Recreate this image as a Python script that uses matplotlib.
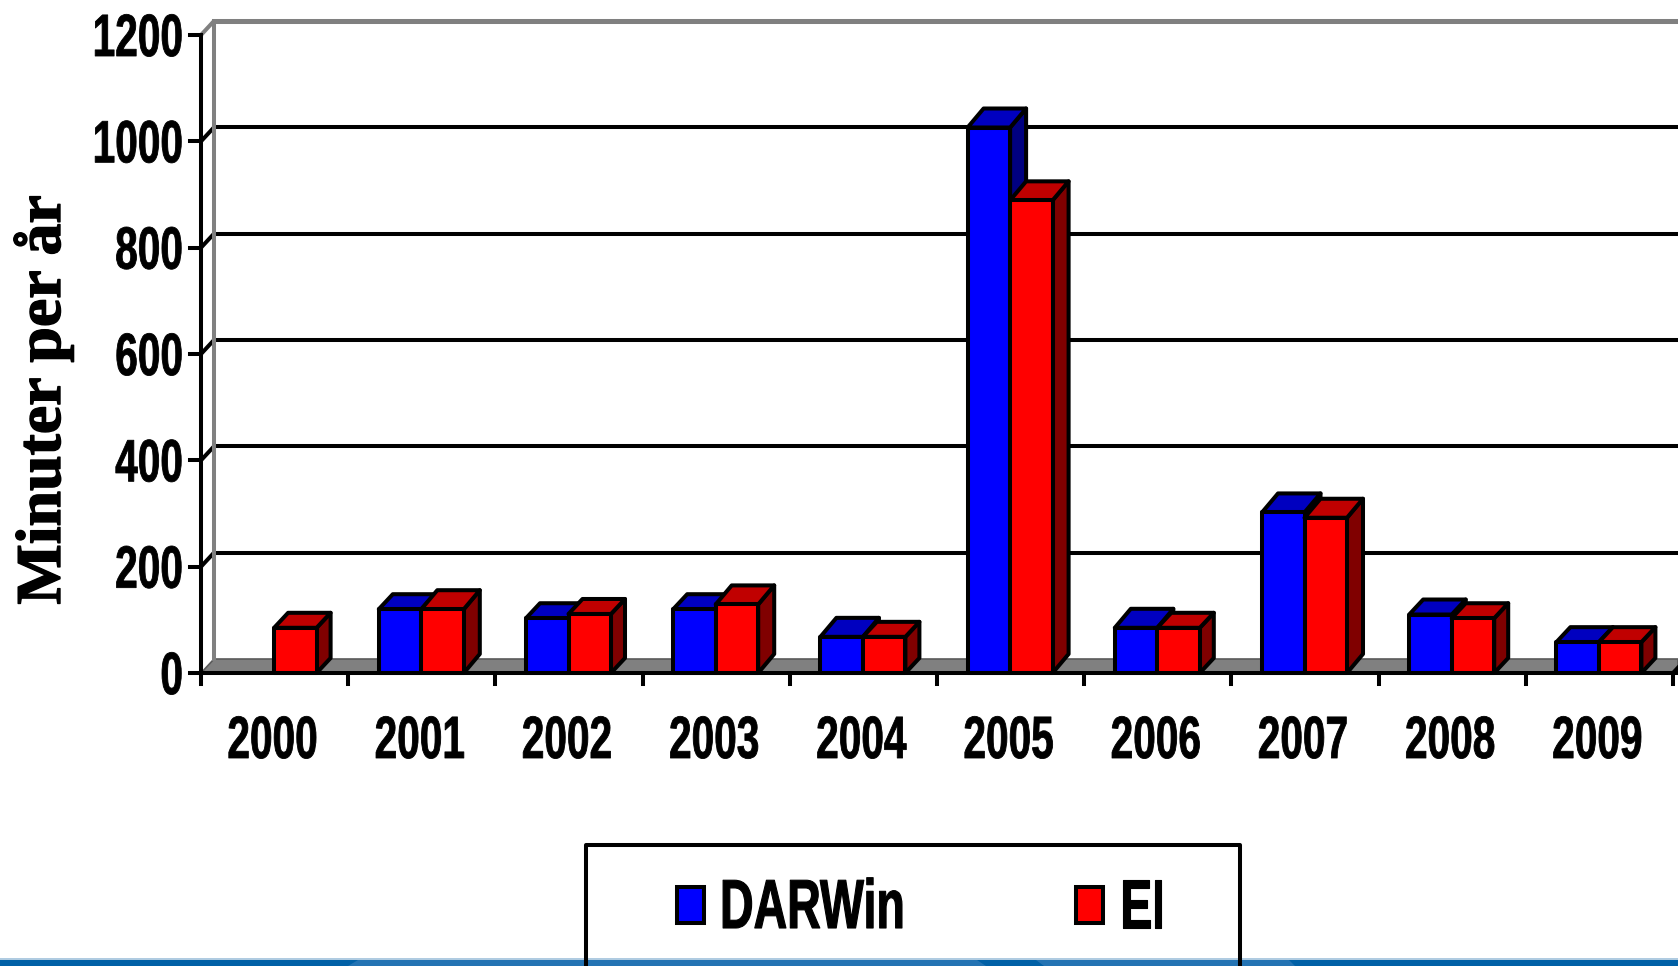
import matplotlib
matplotlib.use("Agg")
import matplotlib.pyplot as plt
from matplotlib.patches import Polygon, Rectangle
from matplotlib.patheffects import AbstractPathEffect, withStroke
from matplotlib.text import Text
from matplotlib.transforms import Affine2D, Bbox

years = ['2000', '2001', '2002', '2003', '2004', '2005', '2006', '2007', '2008', '2009']
darwin = [0, 120, 103, 120, 68, 1026, 85, 302, 110, 58]
ei = [85, 120, 111, 129, 68, 889, 85, 292, 103, 58]
y_ticks = [0, 200, 400, 600, 800, 1000, 1200]
deep_darwin = ['2004', '2005', '2006', '2007']
deep_ei = ['2001', '2003', '2005', '2007']

W, H = 1678, 966
SANS = 'Liberation Sans'
BASE = 0.68


class Condense(AbstractPathEffect):
    """Squeeze a text horizontally and thicken it a little, as the original lettering is."""

    def __init__(self, sx, cx, stroke):
        super().__init__()
        self.sx, self.cx, self.stroke = sx, cx, stroke

    def draw_path(self, renderer, gc, tpath, affine, rgbFace=None):
        a = affine + Affine2D().translate(-self.cx, 0).scale(self.sx, 1).translate(self.cx, 0)
        g = renderer.new_gc()
        g.copy_properties(gc)
        g.set_linewidth(self.stroke)
        g.set_foreground('black')
        renderer.draw_path(g, tpath, a, rgbFace)
        g.restore()


class NarrowText(Text):
    """Real text whose reported extent is the squeezed one that is actually drawn."""

    def __init__(self, xpx, ypx, s, sx, stroke, **kw):
        super().__init__(xpx / W, 1 - ypx / H, s, **kw)
        self.cx, self.sx = xpx, sx
        self.set_path_effects([Condense(sx, xpx, stroke)])

    def get_window_extent(self, renderer=None, dpi=None):
        bb = super().get_window_extent(renderer, dpi)
        return Bbox([[self.cx + (bb.x0 - self.cx) * self.sx, bb.y0],
                     [self.cx + (bb.x1 - self.cx) * self.sx, bb.y1]])


fig = plt.figure(figsize=(W / 100, H / 100), dpi=100, facecolor='white')
L, R, T, B = 201, 1673, 35, 673
ax = fig.add_axes([L / W, 1 - B / H, (R - L) / W, (B - T) / H])
ax.set_xlim(0, 10)
ax.set_ylim(0, 1200)
ax.axis('off')

px = 10 / (R - L)
py = 1200 / (B - T)
LW = 2.9
wall_dx, wall_dy = 13 * px, 14 * py
bw = 42.5 * px
right = (W - L) * px
shift = -0.5 * px

# floor and walls
ax.add_patch(Polygon([(0, 0), (wall_dx, wall_dy), (right, wall_dy), (right, 0)], closed=True,
                     fc='#808080', ec='#5a5a5a', lw=1.2, clip_on=False, zorder=1))
for yt in y_ticks[1:-1]:
    ax.plot([0, wall_dx], [yt, yt + wall_dy], color='black', lw=LW, clip_on=False, zorder=2)
    ax.plot([wall_dx, right], [yt + wall_dy] * 2, color='black', lw=LW, clip_on=False, zorder=2)
ax.plot([0, wall_dx, wall_dx], [1200, 1200 + wall_dy, wall_dy], color='#808080', lw=LW, clip_on=False, zorder=2)
ax.plot([wall_dx, right], [1200 + wall_dy] * 2, color='#808080', lw=LW * 1.25, clip_on=False, zorder=2)
ax.plot([10, 10 + wall_dx], [0, wall_dy], color='black', lw=LW, clip_on=False, zorder=2)

# axes
ax.plot([0, 0], [0, 1200], color='black', lw=LW, clip_on=False, zorder=6)
ax.plot([0, right], [0, 0], color='black', lw=LW, clip_on=False, zorder=6)
for yt in y_ticks:
    ax.plot([-11 * px, 0], [yt, yt], color='black', lw=LW, clip_on=False, zorder=6)
for i in range(len(years) + 1):
    ax.plot([i, i], [0, -11 * py], color='black', lw=LW, clip_on=False, zorder=6)


def bar3d(x0, v, front, top, side, z, deep):
    dx = (16 if deep else 14) * px
    dy = (19 if deep else 15) * py
    x1 = x0 + bw
    kw = dict(closed=True, ec='black', lw=LW, joinstyle='round', clip_on=False, zorder=z)
    ax.add_patch(Polygon([(x1, 0), (x1 + dx, dy), (x1 + dx, v + dy), (x1, v)], fc=side, **kw))
    ax.add_patch(Polygon([(x0, v), (x0 + dx, v + dy), (x1 + dx, v + dy), (x1, v)], fc=top, **kw))
    ax.add_patch(Rectangle((x0, 0), bw, v, fc=front, ec='black', lw=LW, joinstyle='round', clip_on=False, zorder=z))


for i, (a, b) in enumerate(zip(darwin, ei)):
    c = i + 0.5 + shift
    if a:
        bar3d(c - bw, a, '#0000FF', '#0000C0', '#000080', 4, years[i] in deep_darwin)
    if b:
        bar3d(c, b, '#FF0000', '#C00000', '#800000', 5, years[i] in deep_ei)


def label(xpx, ypx, s, size, ha='center', sx=BASE, stroke=0.6):
    t = NarrowText(xpx, ypx, s, sx, stroke, fontsize=size, family=SANS, weight='bold',
                   ha=ha, va='baseline', color='black', zorder=10, transform=fig.transFigure)
    fig.add_artist(t)
    return t


for yt in y_ticks:
    label(183, B - yt / py + 21, str(yt), 43, ha='right')
for i, y in enumerate(years):
    label(L + (i + 0.5) / px - 2, 758, y, 43)

fig.text(60 / W, 1 - 400 / H, 'Minuter per år', rotation=90, rotation_mode='anchor', fontsize=46,
         family='Liberation Serif', weight='bold', ha='center', va='baseline', color='black',
         path_effects=[withStroke(linewidth=1.0, foreground='black')])

# bottom band and legend
band = fig.add_axes([0, 0, 1, 1], zorder=20)
band.set_xlim(0, W)
band.set_ylim(H, 0)
band.axis('off')
band.patch.set_alpha(0)
band.add_patch(Rectangle((0, 958), W, 8, fc='#2373B3', ec='none'))
for pts in ([(0, 960), (358, 960), (348, 966), (0, 966)],
            [(977, 960), (1036, 960), (1044, 966), (986, 966)],
            [(1289, 960), (W, 960), (W, 966), (1295, 966)]):
    band.add_patch(Polygon(pts, closed=True, fc='#0060A6', ec='none'))
band.add_patch(Rectangle((0, 958), W, 2, fc='#AFCBE1', ec='none'))
band.plot([586, 586, 1240, 1240], [966, 845, 845, 966], color='black', lw=LW, solid_joinstyle='round')
band.add_patch(Rectangle((677, 887), 27, 36, fc='#0000FF', ec='black', lw=LW))
band.add_patch(Rectangle((1076, 887), 27, 36, fc='#FF0000', ec='black', lw=LW))
label(720, 928, 'DARWin', 50, ha='left', sx=0.67, stroke=0.8)
label(1120, 928, 'EI', 50, ha='left', stroke=0.8)

fig.savefig('out.png', dpi=100, facecolor='white')
